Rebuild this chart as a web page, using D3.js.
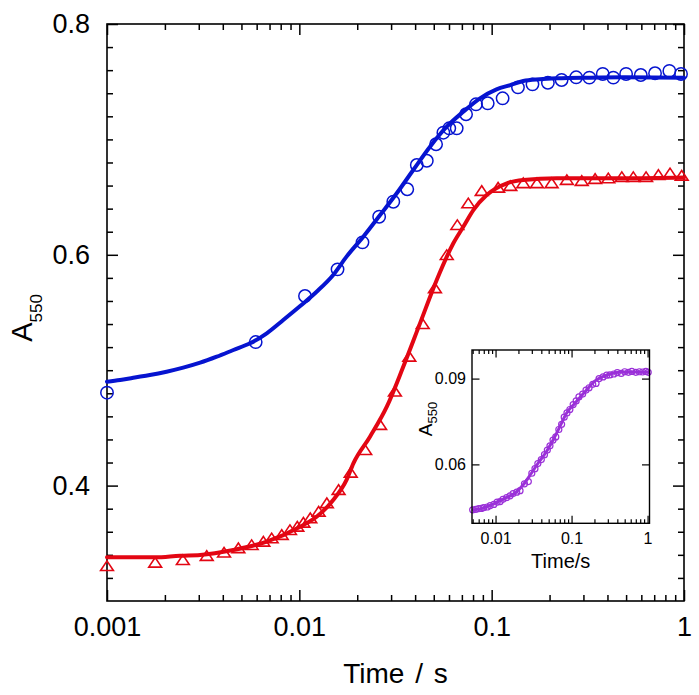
<!DOCTYPE html>
<html><head><meta charset="utf-8">
<script src="https://cdn.jsdelivr.net/npm/d3@7"></script>
<style>
body{margin:0;background:#fff}
svg{display:block}
text{font-family:"Liberation Sans",Arial,Helvetica,sans-serif;fill:#000}
</style>
</head><body>
<svg id="chart" width="699" height="695"></svg>
<script>
// ---------- data ----------
const blueTime = [0.001, 0.00593, 0.0107, 0.0158, 0.0213, 0.0260, 0.0308, 0.0364, 0.0408, 0.0460, 0.0514, 0.0561, 0.0602, 0.0658, 0.0736, 0.0829, 0.0954, 0.114, 0.137, 0.163, 0.196, 0.231, 0.275, 0.322, 0.378, 0.429, 0.500, 0.596, 0.707, 0.839, 0.965];
const blueA550 = [0.4805, 0.5244, 0.5643, 0.5874, 0.6108, 0.6330, 0.6460, 0.6568, 0.6778, 0.6815, 0.6958, 0.7058, 0.7096, 0.7096, 0.7218, 0.7304, 0.7313, 0.7356, 0.7451, 0.7477, 0.7491, 0.7515, 0.7538, 0.7535, 0.7567, 0.7535, 0.7567, 0.7558, 0.7573, 0.7593, 0.7567];

const blueFitTime = [0.001, 0.00117, 0.00137, 0.00167, 0.00204, 0.00249, 0.00305, 0.00372, 0.00454, 0.00554, 0.00677, 0.00825, 0.0101, 0.0123, 0.0150, 0.0176, 0.0215, 0.0263, 0.0321, 0.0391, 0.0478, 0.0584, 0.0712, 0.0870, 0.106, 0.125, 0.146, 0.178, 0.218, 0.325, 0.484, 1.0];
const blueFitA550 = [0.4900, 0.4915, 0.4935, 0.4958, 0.4987, 0.5022, 0.5065, 0.5117, 0.5175, 0.5233, 0.5320, 0.5435, 0.5556, 0.5680, 0.5825, 0.5984, 0.6157, 0.6345, 0.6533, 0.6735, 0.6937, 0.7110, 0.7240, 0.7356, 0.7434, 0.7471, 0.7506, 0.7521, 0.7529, 0.7535, 0.7538, 0.7535];

const redTime = [0.001, 0.00178, 0.00248, 0.00330, 0.00406, 0.00482, 0.00565, 0.00650, 0.00718, 0.00810, 0.00894, 0.00976, 0.0105, 0.0114, 0.0126, 0.0139, 0.0160, 0.0185, 0.0220, 0.0263, 0.0314, 0.0373, 0.0438, 0.0507, 0.0584, 0.0663, 0.0756, 0.0888, 0.108, 0.125, 0.146, 0.172, 0.205, 0.246, 0.294, 0.345, 0.404, 0.475, 0.545, 0.635, 0.736, 0.846, 0.973];
const redA550 = [0.3303, 0.3332, 0.3355, 0.3390, 0.3419, 0.3457, 0.3485, 0.3514, 0.3543, 0.3572, 0.3615, 0.3644, 0.3678, 0.3717, 0.3774, 0.3847, 0.3962, 0.4112, 0.4308, 0.4525, 0.4814, 0.5117, 0.5400, 0.5710, 0.5998, 0.6258, 0.6446, 0.6553, 0.6581, 0.6596, 0.6620, 0.6620, 0.6620, 0.6648, 0.6640, 0.6657, 0.6663, 0.6674, 0.6674, 0.6674, 0.6692, 0.6706, 0.6685];

const redFitTime = [0.001, 0.00178, 0.0024, 0.00305, 0.00454, 0.00677, 0.0101, 0.0123, 0.0150, 0.0176, 0.0191, 0.0233, 0.0285, 0.0347, 0.0424, 0.0518, 0.0632, 0.0712, 0.0803, 0.0942, 0.120, 0.146, 0.218, 0.484, 1.0];
const redFitA550 = [0.3379, 0.3379, 0.3393, 0.3399, 0.3442, 0.3514, 0.3644, 0.3730, 0.3875, 0.4049, 0.4193, 0.4424, 0.4684, 0.5030, 0.5406, 0.5782, 0.6100, 0.6243, 0.6388, 0.6518, 0.6620, 0.6648, 0.6663, 0.6663, 0.6670];

const insetTime = [0.005, 0.0055, 0.006, 0.0065, 0.007, 0.0078, 0.0085, 0.0095, 0.0105, 0.0115, 0.0125, 0.014, 0.0155, 0.017, 0.019, 0.021, 0.024, 0.027, 0.030, 0.033, 0.036, 0.040, 0.044, 0.048, 0.052, 0.057, 0.062, 0.068, 0.074, 0.080, 0.087, 0.095, 0.105, 0.115, 0.125, 0.14, 0.155, 0.17, 0.19, 0.21, 0.23, 0.26, 0.29, 0.32, 0.36, 0.40, 0.45, 0.50, 0.56, 0.62, 0.70, 0.78, 0.86, 0.95, 1.02];
const insetA550 = [0.0441, 0.0443, 0.0445, 0.0446, 0.0449, 0.0451, 0.0456, 0.0460, 0.0468, 0.0470, 0.0478, 0.0484, 0.0490, 0.0498, 0.0503, 0.0508, 0.0532, 0.0540, 0.0569, 0.0585, 0.0603, 0.0617, 0.0634, 0.0650, 0.0665, 0.0685, 0.0696, 0.0722, 0.0740, 0.0765, 0.0780, 0.0792, 0.0809, 0.0822, 0.0836, 0.0846, 0.0860, 0.0868, 0.0880, 0.0883, 0.0900, 0.0906, 0.0912, 0.0913, 0.0916, 0.0921, 0.0918, 0.0924, 0.0922, 0.0925, 0.0922, 0.0924, 0.0923, 0.0925, 0.0922];

const insetFitTime = [0.00506, 0.00721, 0.00976, 0.0132, 0.0179, 0.0230, 0.0296, 0.0362, 0.0466, 0.0571, 0.0699, 0.0854, 0.110, 0.149, 0.202, 0.302, 0.452, 0.679, 1.015];
const insetFitA550 = [0.0441, 0.0449, 0.0464, 0.0481, 0.0499, 0.0528, 0.0569, 0.0604, 0.0644, 0.0685, 0.0731, 0.0778, 0.0813, 0.0853, 0.0891, 0.0914, 0.0923, 0.0923, 0.0923];

const xMajorTicks = [0.001, 0.01, 0.1, 1];
const xTickLabels = ["0.001", "0.01", "0.1", "1"];
const yMajorTicks = [0.4, 0.6, 0.8];
const yTickLabels = ["0.4", "0.6", "0.8"];
const insetXMajorTicks = [0.01, 0.1, 1];
const insetXTickLabels = ["0.01", "0.1", "1"];
const insetYMajorTicks = [0.06, 0.09];
const insetYTickLabels = ["0.06", "0.09"];

// ---------- layout ----------
const BLUE = "#0614d0", RED = "#e30613", PURPLE = "#9a30d8";
const FONT = '"Liberation Sans",Arial,sans-serif';
const svg = d3.select("#chart");
const P = {l: 107, r: 684, t: 24, b: 601};
const x = d3.scaleLog().domain([0.001, 1]).range([P.l, P.r]);
const y = d3.scaleLinear().domain([0.3, 0.8]).range([P.b, P.t]);

function logMinors(lo, hi) {
  const out = [];
  for (let e = Math.floor(Math.log10(lo)); e < Math.ceil(Math.log10(hi)); e++) {
    for (let k = 2; k <= 9; k++) {
      const v = k * Math.pow(10, e);
      if (v > lo && v < hi) out.push(v);
    }
  }
  return out;
}
const xMinor = logMinors(0.001, 1);
const yMinor = d3.range(0.32, 0.8, 0.02).filter(v => !yMajorTicks.some(m => Math.abs(m - v) < 1e-6));

function styleAxis(g) {
  g.select(".domain").remove();
  g.selectAll(".tick line").attr("stroke", "#000").attr("stroke-width", 1.5);
}

const mainG = svg.append("g");
mainG.append("g").attr("transform", `translate(0,${P.b})`)
  .call(d3.axisBottom(x).tickValues(xMinor).tickSize(-6).tickFormat("")).call(styleAxis);
mainG.append("g").attr("transform", `translate(0,${P.b})`)
  .call(d3.axisBottom(x).tickValues(xMajorTicks).tickSize(-11).tickPadding(16)
    .tickFormat((d, i) => xTickLabels[i])).call(styleAxis)
  .selectAll("text").attr("font-size", 27).attr("font-family", FONT).attr("fill", "#000");
mainG.append("g").attr("transform", `translate(0,${P.t})`)
  .call(d3.axisTop(x).tickValues(xMinor).tickSize(-6).tickFormat("")).call(styleAxis);
mainG.append("g").attr("transform", `translate(0,${P.t})`)
  .call(d3.axisTop(x).tickValues(xMajorTicks).tickSize(-11).tickFormat("")).call(styleAxis);

mainG.append("g").attr("transform", `translate(${P.l},0)`)
  .call(d3.axisLeft(y).tickValues(yMinor).tickSize(-6).tickFormat("")).call(styleAxis);
mainG.append("g").attr("transform", `translate(${P.l},0)`)
  .call(d3.axisLeft(y).tickValues(yMajorTicks).tickSize(-11).tickPadding(17)
    .tickFormat((d, i) => yTickLabels[i])).call(styleAxis)
  .selectAll("text").attr("font-size", 27).attr("font-family", FONT).attr("fill", "#000");
mainG.append("g").attr("transform", `translate(${P.r},0)`)
  .call(d3.axisRight(y).tickValues(yMinor).tickSize(-6).tickFormat("")).call(styleAxis);
mainG.append("g").attr("transform", `translate(${P.r},0)`)
  .call(d3.axisRight(y).tickValues(yMajorTicks).tickSize(-11).tickFormat("")).call(styleAxis);

mainG.append("rect").attr("x", P.l).attr("y", P.t).attr("width", P.r - P.l).attr("height", P.b - P.t)
  .attr("fill", "none").attr("stroke", "#000").attr("stroke-width", 1.6);

svg.append("text").attr("x", (P.l + P.r) / 2).attr("y", 683).attr("text-anchor", "middle")
  .attr("font-size", 28).attr("word-spacing", 3).text("Time / s");
const yt = svg.append("text").attr("transform", "translate(32,318) rotate(-90)").attr("text-anchor", "middle");
yt.append("tspan").attr("font-size", 29).text("A");
yt.append("tspan").attr("font-size", 17).attr("dy", 10).text("550");

// markers
const tri = "M0,-5.2L6.4,4.4L-6.4,4.4Z";
const blueData = blueTime.map((t, i) => [t, blueA550[i]]);
const redData = redTime.map((t, i) => [t, redA550[i]]);
mainG.append("g").selectAll("circle").data(blueData).join("circle")
  .attr("cx", d => x(d[0])).attr("cy", d => y(d[1])).attr("r", 6.2)
  .attr("fill", "none").attr("stroke", BLUE).attr("stroke-width", 1.5);
mainG.append("g").selectAll("path").data(redData).join("path")
  .attr("transform", d => `translate(${x(d[0])},${y(d[1])})`).attr("d", tri)
  .attr("fill", "none").attr("stroke", RED).attr("stroke-width", 1.6);

// fit lines
const line = d3.line().x(d => x(d[0])).y(d => y(d[1])).curve(d3.curveMonotoneX);
mainG.append("path").datum(blueFitTime.map((t, i) => [t, blueFitA550[i]]))
  .attr("d", line).attr("fill", "none").attr("stroke", BLUE).attr("stroke-width", 4).attr("stroke-linecap", "round");
mainG.append("path").datum(redFitTime.map((t, i) => [t, redFitA550[i]]))
  .attr("d", line).attr("fill", "none").attr("stroke", RED).attr("stroke-width", 4).attr("stroke-linecap", "round");

// ---------- inset ----------
const I = {l: 472, r: 649.5, t: 350, b: 523.3};
const xi = d3.scaleLog().domain([0.0049, 1.06]).range([I.l, I.r]);
const yi = d3.scaleLinear().domain([0.0394, 0.1]).range([I.b, I.t]);
const ig = svg.append("g");
ig.append("rect").attr("x", I.l).attr("y", I.t).attr("width", I.r - I.l).attr("height", I.b - I.t).attr("fill", "#fff");
const xiMinor = logMinors(0.0049, 1.06);
ig.append("g").attr("transform", `translate(0,${I.b})`)
  .call(d3.axisBottom(xi).tickValues(xiMinor).tickSize(-4).tickFormat("")).call(styleAxis);
ig.append("g").attr("transform", `translate(0,${I.b})`)
  .call(d3.axisBottom(xi).tickValues(insetXMajorTicks).tickSize(-7.5).tickPadding(9)
    .tickFormat((d, i) => insetXTickLabels[i])).call(styleAxis)
  .selectAll("text").attr("font-size", 16).attr("font-family", FONT).attr("fill", "#000");
ig.append("g").attr("transform", `translate(0,${I.t})`)
  .call(d3.axisTop(xi).tickValues(xiMinor).tickSize(-4).tickFormat("")).call(styleAxis);
ig.append("g").attr("transform", `translate(0,${I.t})`)
  .call(d3.axisTop(xi).tickValues(insetXMajorTicks).tickSize(-7.5).tickFormat("")).call(styleAxis);
ig.append("g").attr("transform", `translate(${I.l},0)`)
  .call(d3.axisLeft(yi).tickValues(insetYMajorTicks).tickSize(-7.5).tickPadding(6)
    .tickFormat((d, i) => insetYTickLabels[i])).call(styleAxis)
  .selectAll("text").attr("font-size", 16).attr("font-family", FONT).attr("fill", "#000");
ig.append("g").attr("transform", `translate(${I.r},0)`)
  .call(d3.axisRight(yi).tickValues(insetYMajorTicks).tickSize(-7.5).tickFormat("")).call(styleAxis);
ig.selectAll(".tick line").attr("stroke-width", 1.2);

const insetData = insetTime.map((t, i) => [t, insetA550[i]]);
ig.append("g").selectAll("circle").data(insetData).join("circle")
  .attr("cx", d => xi(d[0])).attr("cy", d => yi(d[1])).attr("r", 3)
  .attr("fill", "none").attr("stroke", PURPLE).attr("stroke-width", 1.2);
const linei = d3.line().x(d => xi(d[0])).y(d => yi(d[1])).curve(d3.curveMonotoneX);
ig.append("path").datum(insetFitTime.map((t, i) => [t, insetFitA550[i]]))
  .attr("d", linei).attr("fill", "none").attr("stroke", PURPLE).attr("stroke-width", 3).attr("stroke-linecap", "round");
ig.append("rect").attr("x", I.l).attr("y", I.t).attr("width", I.r - I.l).attr("height", I.b - I.t)
  .attr("fill", "none").attr("stroke", "#000").attr("stroke-width", 1.4);

svg.append("text").attr("x", (I.l + I.r) / 2).attr("y", 568).attr("text-anchor", "middle")
  .attr("font-size", 20).text("Time/s");
const yti = svg.append("text").attr("transform", "translate(432,419) rotate(-90)").attr("text-anchor", "middle");
yti.append("tspan").attr("font-size", 19).text("A");
yti.append("tspan").attr("font-size", 13).attr("dy", 5).text("550");
</script>
</body></html>
